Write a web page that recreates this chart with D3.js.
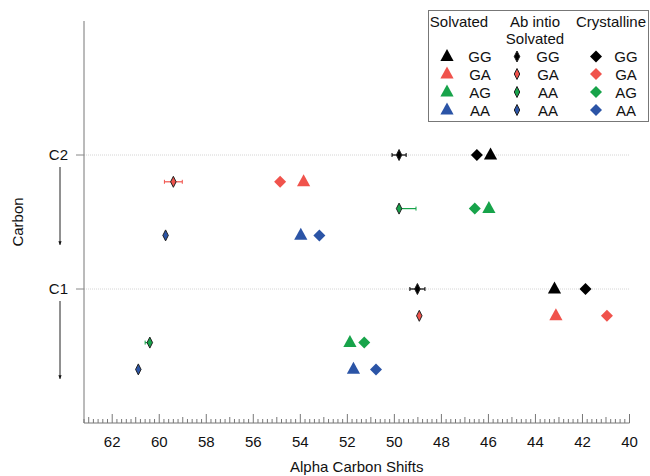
<!DOCTYPE html>
<html>
<head>
<meta charset="utf-8">
<script src="https://cdn.jsdelivr.net/npm/d3@7"></script>
<style>
  body { margin: 0; background: #fff; }
  svg { font-family: "Liberation Sans", Arial, sans-serif; }
</style>
</head>
<body>
<div id="chart"></div>
<script>
// conformers per carbon row (top to bottom inside each carbon block)
var carbonLabels = ["C1", "C2"];
var conformers = ["GG", "GA", "AG", "AA"];
var colors = ["#000000", "#f0534c", "#17a34a", "#2b54a6"];

// Solvated (triangles)
var solvatedC2 = [45.91, 53.86, 45.98, 53.98];
var solvatedC1 = [43.19, 43.13, 51.89, 51.74];
// Crystalline (diamonds)
var crystC2 = [46.49, 54.86, 46.58, 53.19];
var crystC1 = [41.87, 40.96, 51.28, 50.78];
// Ab initio solvated (thin diamonds + error bars)
var abC2 = [49.80, 59.40, 49.80, 59.73];
var abC1 = [49.02, 48.94, 60.40, 60.89];
var abErrLowC2 = [0.30, 0.38, 0.72, 0];   // towards smaller shift (right)
var abErrHighC2 = [0.30, 0.38, 0, 0];     // towards larger shift (left)
var abErrLowC1 = [0.32, 0.10, 0, 0];
var abErrHighC1 = [0.32, 0.10, 0.20, 0];

var abLegendLabels = ["GG", "GA", "AA", "AA"];
var xTicks = [62, 60, 58, 56, 54, 52, 50, 48, 46, 44, 42, 40];

var width = 650, height = 476;
var fs = 15;

var svg = d3.select("#chart").append("svg")
  .attr("width", width)
  .attr("height", height);

var x = d3.scaleLinear().domain([63.2, 40]).range([84, 629.5]);
var y = d3.scaleLinear().domain([0, 3]).range([423, 21]);

function rowY(carbon, i) { return y(carbon - 0.2 * i); }

// gridlines at C1 / C2
svg.append("g").selectAll("line")
  .data([1, 2])
  .enter().append("line")
  .attr("x1", x(63.2)).attr("x2", x(40))
  .attr("y1", function(d) { return y(d); })
  .attr("y2", function(d) { return y(d); })
  .attr("stroke", "#d4d4d4")
  .attr("stroke-width", 1)
  .attr("stroke-dasharray", "1,1");

// x axis: minor ticks every 0.2, medium every 1, major every 2
var minor = d3.range(0, 117).map(function(k) { return +(40 + k * 0.2).toFixed(1); })
  .filter(function(v) { return v <= 63.2; });
var xg = svg.append("g");
xg.selectAll("line.tk")
  .data(minor)
  .enter().append("line")
  .attr("class", "tk")
  .attr("x1", function(d) { return x(d); })
  .attr("x2", function(d) { return x(d); })
  .attr("y1", y(0))
  .attr("y2", function(d) {
    var r = Math.round(d * 10);
    if (r % 20 == 0) return y(0) - 9;
    if (r % 10 == 0) return y(0) - 6;
    return y(0) - 4;
  })
  .attr("stroke", "#777")
  .attr("stroke-width", 1);

xg.append("line")
  .attr("x1", x(63.2)).attr("x2", x(40))
  .attr("y1", y(0)).attr("y2", y(0))
  .attr("stroke", "#777");

xg.selectAll("text")
  .data(xTicks)
  .enter().append("text")
  .attr("x", function(d) { return x(d); })
  .attr("y", 447)
  .attr("text-anchor", "middle")
  .attr("font-size", fs)
  .attr("fill", "#111")
  .text(function(d) { return d; });

svg.append("text")
  .attr("x", (x(63.2) + x(40)) / 2)
  .attr("y", 472)
  .attr("text-anchor", "middle")
  .attr("font-size", fs)
  .attr("fill", "#111")
  .text("Alpha Carbon Shifts");

// y axis
svg.append("line")
  .attr("x1", x(63.2)).attr("x2", x(63.2))
  .attr("y1", y(3)).attr("y2", y(0))
  .attr("stroke", "#777");

var yg = svg.append("g");
yg.selectAll("line")
  .data([1, 2])
  .enter().append("line")
  .attr("x1", x(63.2) - 8).attr("x2", x(63.2))
  .attr("y1", function(d) { return y(d); })
  .attr("y2", function(d) { return y(d); })
  .attr("stroke", "#888");
yg.selectAll("text")
  .data([1, 2])
  .enter().append("text")
  .attr("x", 68)
  .attr("y", function(d) { return y(d) + 5; })
  .attr("text-anchor", "end")
  .attr("font-size", fs)
  .attr("fill", "#111")
  .text(function(d) { return carbonLabels[d - 1]; });

svg.append("text")
  .attr("transform", "translate(23," + (y(1.5)) + ") rotate(-90)")
  .attr("text-anchor", "middle")
  .attr("font-size", fs)
  .attr("fill", "#111")
  .text("Carbon");

// down arrows under C2 and C1
svg.append("defs").append("marker")
  .attr("id", "ah")
  .attr("viewBox", "0 0 10 10")
  .attr("refX", 9).attr("refY", 5)
  .attr("markerWidth", 4).attr("markerHeight", 6)
  .attr("orient", "auto")
  .append("path").attr("d", "M0,1 L10,5 L0,9 Z").attr("fill", "#111");

svg.selectAll("line.arrow")
  .data([2, 1])
  .enter().append("line")
  .attr("class", "arrow")
  .attr("x1", 60).attr("x2", 60)
  .attr("y1", function(d) { return y(d) + 12; })
  .attr("y2", function(d) { return y(d - 0.67); })
  .attr("stroke", "#222")
  .attr("stroke-width", 1)
  .attr("marker-end", "url(#ah)");

// marker shapes
function triPath(s) { return "M0," + (-s * 0.55) + " L" + (s * 0.55) + "," + (s * 0.45) + " L" + (-s * 0.55) + "," + (s * 0.45) + " Z"; }
function diaPath(w, h) { return "M0," + (-h / 2) + " L" + (w / 2) + ",0 L0," + (h / 2) + " L" + (-w / 2) + ",0 Z"; }

function rows(carbon, vals) {
  return vals.map(function(v, i) { return {carbon: carbon, i: i, v: v}; });
}

var solvated = rows(2, solvatedC2).concat(rows(1, solvatedC1));
var cryst = rows(2, crystC2).concat(rows(1, crystC1));
var ab = rows(2, abC2).concat(rows(1, abC1));
ab.forEach(function(d) {
  d.lo = d.carbon == 2 ? abErrLowC2[d.i] : abErrLowC1[d.i];
  d.hi = d.carbon == 2 ? abErrHighC2[d.i] : abErrHighC1[d.i];
});

var plot = svg.append("g");

// ab initio error bars
var eb = plot.selectAll("g.eb")
  .data(ab.filter(function(d) { return d.lo > 0 || d.hi > 0; }))
  .enter().append("g").attr("class", "eb");
eb.append("line")
  .attr("x1", function(d) { return x(d.v + d.hi); })
  .attr("x2", function(d) { return x(d.v - d.lo); })
  .attr("y1", function(d) { return rowY(d.carbon, d.i); })
  .attr("y2", function(d) { return rowY(d.carbon, d.i); })
  .attr("stroke", function(d) { return colors[d.i]; })
  .attr("stroke-width", 1.2);
eb.filter(function(d) { return d.hi > 0.15; }).append("line")
  .attr("x1", function(d) { return x(d.v + d.hi); })
  .attr("x2", function(d) { return x(d.v + d.hi); })
  .attr("y1", function(d) { return rowY(d.carbon, d.i) - 2; })
  .attr("y2", function(d) { return rowY(d.carbon, d.i) + 2; })
  .attr("stroke", function(d) { return colors[d.i]; });
eb.filter(function(d) { return d.lo > 0.15; }).append("line")
  .attr("x1", function(d) { return x(d.v - d.lo); })
  .attr("x2", function(d) { return x(d.v - d.lo); })
  .attr("y1", function(d) { return rowY(d.carbon, d.i) - 2; })
  .attr("y2", function(d) { return rowY(d.carbon, d.i) + 2; })
  .attr("stroke", function(d) { return colors[d.i]; });

plot.selectAll("path.ab")
  .data(ab)
  .enter().append("path")
  .attr("class", "ab")
  .attr("d", diaPath(5.5, 11))
  .attr("transform", function(d) { return "translate(" + x(d.v) + "," + rowY(d.carbon, d.i) + ")"; })
  .attr("fill", function(d) { return colors[d.i]; })
  .attr("stroke", "#222")
  .attr("stroke-width", 1);

plot.selectAll("path.cr")
  .data(cryst)
  .enter().append("path")
  .attr("class", "cr")
  .attr("d", diaPath(12, 12))
  .attr("transform", function(d) { return "translate(" + x(d.v) + "," + rowY(d.carbon, d.i) + ")"; })
  .attr("fill", function(d) { return colors[d.i]; });

plot.selectAll("path.sv")
  .data(solvated)
  .enter().append("path")
  .attr("class", "sv")
  .attr("d", triPath(12))
  .attr("transform", function(d) { return "translate(" + x(d.v) + "," + (rowY(d.carbon, d.i) - 1) + ")"; })
  .attr("fill", function(d) { return colors[d.i]; });

// legend
var lg = svg.append("g");
lg.append("rect")
  .attr("x", 428.5).attr("y", 10.5)
  .attr("width", 220).attr("height", 111)
  .attr("fill", "#fff")
  .attr("stroke", "#777");

var heads = [
  {t: "Solvated", x: 459, y: 27},
  {t: "Ab intio", x: 535, y: 27},
  {t: "Solvated", x: 535, y: 44},
  {t: "Crystalline", x: 611, y: 27}
];
lg.selectAll("text.h")
  .data(heads)
  .enter().append("text")
  .attr("class", "h")
  .attr("x", function(d) { return d.x; })
  .attr("y", function(d) { return d.y; })
  .attr("text-anchor", "middle")
  .attr("font-size", fs)
  .attr("fill", "#111")
  .text(function(d) { return d.t; });

var legRowY = [56.5, 74, 92, 110];
var lr = lg.selectAll("g.lr")
  .data(conformers)
  .enter().append("g")
  .attr("class", "lr")
  .attr("transform", function(d, i) { return "translate(0," + legRowY[i] + ")"; });

lr.append("path")
  .attr("d", triPath(12))
  .attr("transform", "translate(447,-1)")
  .attr("fill", function(d, i) { return colors[i]; });
lr.append("text")
  .attr("x", 480).attr("y", 5.5)
  .attr("text-anchor", "middle")
  .attr("font-size", fs)
  .attr("fill", "#111")
  .text(function(d) { return d; });

lr.append("path")
  .attr("d", diaPath(5.5, 11))
  .attr("transform", "translate(517,0)")
  .attr("fill", function(d, i) { return colors[i]; })
  .attr("stroke", "#222");
lr.append("text")
  .attr("x", 548).attr("y", 5.5)
  .attr("text-anchor", "middle")
  .attr("font-size", fs)
  .attr("fill", "#111")
  .text(function(d, i) { return abLegendLabels[i]; });

lr.append("path")
  .attr("d", diaPath(12, 12))
  .attr("transform", "translate(596,0)")
  .attr("fill", function(d, i) { return colors[i]; });
lr.append("text")
  .attr("x", 626).attr("y", 5.5)
  .attr("text-anchor", "middle")
  .attr("font-size", fs)
  .attr("fill", "#111")
  .text(function(d) { return d; });
</script>
</body>
</html>
